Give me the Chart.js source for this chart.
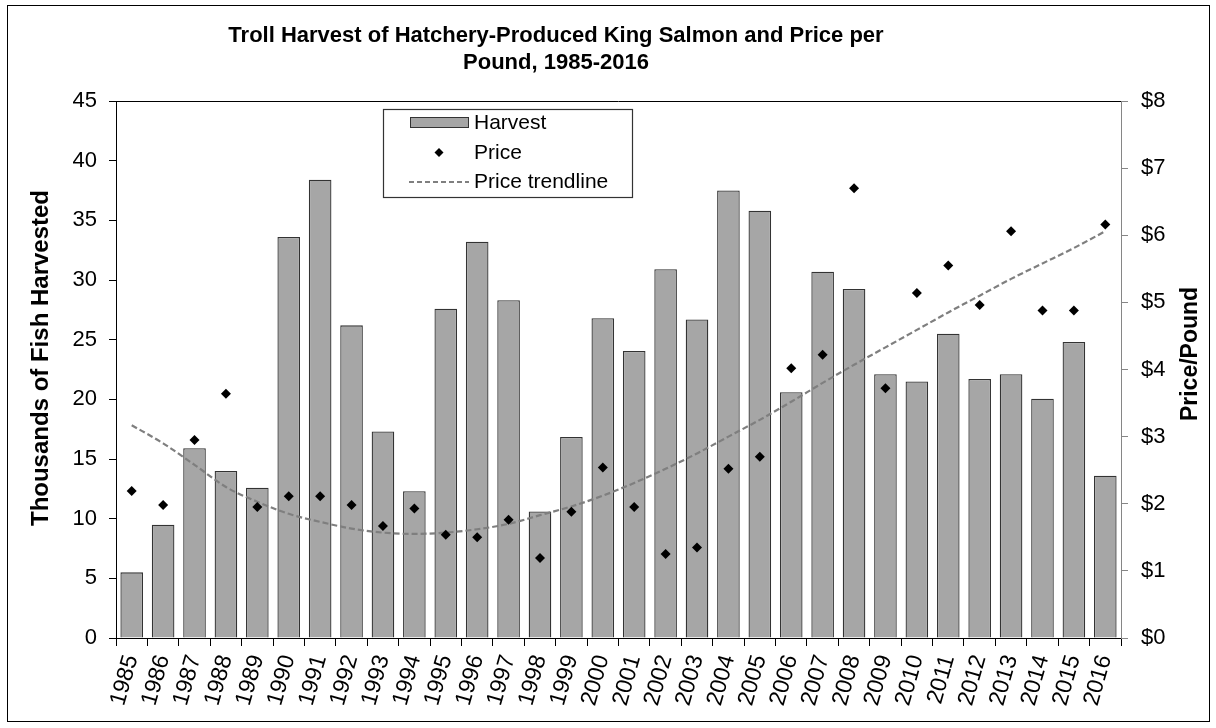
<!DOCTYPE html>
<html>
<head>
<meta charset="utf-8">
<script src="https://cdn.jsdelivr.net/npm/chart.js@4"></script>
<style>
  html, body { margin: 0; padding: 0; background: #fff; }
  canvas { display: block; }
</style>
</head>
<body>
<canvas id="salmonChart" width="1216" height="728"></canvas>
<script>
const years = ['1985','1986','1987','1988','1989','1990','1991','1992','1993','1994','1995','1996','1997','1998','1999','2000',
               '2001','2002','2003','2004','2005','2006','2007','2008','2009','2010','2011','2012','2013','2014','2015','2016'];

// thousands of fish
const harvest = [5.5, 9.5, 15.9, 14.0, 12.6, 33.6, 38.4, 26.2, 17.3, 12.3, 27.6, 33.2, 28.3, 10.6, 16.85, 26.8,
                 24.05, 30.9, 26.7, 37.5, 35.8, 20.6, 30.7, 29.25, 22.1, 21.5, 25.5, 21.7, 22.1, 20.05, 24.8, 13.6];

// dollars per pound
const price = [2.19, 1.98, 2.95, 3.64, 1.95, 2.11, 2.11, 1.98, 1.67, 1.93, 1.54, 1.50, 1.76, 1.19, 1.88, 2.54,
               1.95, 1.25, 1.35, 2.52, 2.70, 4.02, 4.22, 6.70, 3.72, 5.14, 5.55, 4.96, 6.06, 4.88, 4.88, 6.16];

// trendline
const trend = [3.17, 2.90, 2.58, 2.25, 2.03, 1.85, 1.73, 1.63, 1.57, 1.55, 1.57, 1.62, 1.70, 1.83, 1.96, 2.12,
               2.31, 2.52, 2.75, 3.00, 3.25, 3.52, 3.80, 4.07, 4.33, 4.59, 4.85, 5.10, 5.35, 5.58, 5.81, 6.06];

const FONT = 'Liberation Sans, Arial, sans-serif';
const BAR_FILL = '#a6a6a6';
const BAR_EDGE = '#333333';
const TREND_COLOR = '#7f7f7f';

// white background, outer frame, title, axis titles, top border, legend
const decorations = {
    id: 'decorations',
    beforeDraw(chart) {
        const { ctx } = chart;
        ctx.save();
        ctx.fillStyle = '#fff';
        ctx.fillRect(0, 0, chart.width, chart.height);
        ctx.strokeStyle = '#000';
        ctx.lineWidth = 1;
        ctx.strokeRect(7.5, 5.5, 1202, 716);
        ctx.restore();
    },
    afterDraw(chart) {
        const { ctx, chartArea } = chart;
        ctx.save();

        // top edge of plot area
        ctx.strokeStyle = '#000';
        ctx.lineWidth = 1;
        ctx.beginPath();
        ctx.moveTo(chartArea.left, chartArea.top + 0.5);
        ctx.lineTo(chartArea.right, chartArea.top + 0.5);
        ctx.stroke();

        // title
        ctx.fillStyle = '#000';
        ctx.font = 'bold 22px ' + FONT;
        ctx.textAlign = 'center';
        ctx.textBaseline = 'middle';
        ctx.fillText('Troll Harvest of Hatchery-Produced King Salmon and Price per', 556, 36);
        ctx.fillText('Pound, 1985-2016', 556, 63);

        // axis titles (both read bottom to top)
        ctx.save();
        ctx.font = 'bold 24px ' + FONT;
        ctx.translate(41, 358);
        ctx.rotate(-Math.PI / 2);
        ctx.fillText('Thousands of Fish Harvested', 0, 0);
        ctx.restore();
        ctx.save();
        ctx.font = 'bold 23px ' + FONT;
        ctx.translate(1191, 354);
        ctx.rotate(-Math.PI / 2);
        ctx.fillText('Price/Pound', 0, 0);
        ctx.restore();

        // legend
        ctx.fillStyle = '#fff';
        ctx.fillRect(383, 109, 249, 88);
        ctx.strokeStyle = '#333';
        ctx.lineWidth = 1.2;
        ctx.strokeRect(383.5, 109.5, 249, 88);

        ctx.fillStyle = BAR_FILL;
        ctx.fillRect(410, 117, 58, 10);
        ctx.strokeStyle = BAR_EDGE;
        ctx.lineWidth = 1;
        ctx.strokeRect(410.5, 117.5, 58, 10);

        ctx.fillStyle = '#000';
        ctx.beginPath();
        ctx.moveTo(439, 148);
        ctx.lineTo(443.5, 152.5);
        ctx.lineTo(439, 157);
        ctx.lineTo(434.5, 152.5);
        ctx.closePath();
        ctx.fill();

        ctx.strokeStyle = TREND_COLOR;
        ctx.lineWidth = 2;
        ctx.setLineDash([5, 3]);
        ctx.beginPath();
        ctx.moveTo(409, 182);
        ctx.lineTo(469, 182);
        ctx.stroke();
        ctx.setLineDash([]);

        ctx.fillStyle = '#000';
        ctx.font = '21px ' + FONT;
        ctx.textAlign = 'left';
        ctx.fillText('Harvest', 474, 123);
        ctx.fillText('Price', 474, 153);
        ctx.fillText('Price trendline', 474, 182);

        ctx.restore();
    }
};

const chart = new Chart(document.getElementById('salmonChart').getContext('2d'), {
    type: 'bar',
    data: {
        labels: years,
        datasets: [
            {
                type: 'line',
                label: 'Price',
                data: price,
                yAxisID: 'y1',
                showLine: false,
                pointStyle: 'rectRot',
                pointRadius: 5,
                pointBackgroundColor: '#000',
                pointBorderColor: '#000',
                pointBorderWidth: 0,
                order: 1
            },
            {
                type: 'line',
                label: 'Price trendline',
                data: trend,
                yAxisID: 'y1',
                borderColor: TREND_COLOR,
                borderWidth: 2.2,
                borderDash: [6, 3],
                pointRadius: 0,
                fill: false,
                cubicInterpolationMode: 'monotone',
                order: 2
            },
            {
                label: 'Harvest',
                data: harvest,
                yAxisID: 'y',
                backgroundColor: BAR_FILL,
                borderColor: BAR_EDGE,
                borderWidth: 1.3,
                barPercentage: 0.72,
                categoryPercentage: 1.0,
                order: 3
            }
        ]
    },
    options: {
        responsive: false,
        animation: false,
        layout: {
            padding: { top: 101, left: 0, right: 0, bottom: 0 }
        },
        plugins: {
            legend: { display: false },
            title: { display: false },
            tooltip: { enabled: false }
        },
        scales: {
            x: {
                grid: {
                    offset: true,
                    drawOnChartArea: false,
                    tickLength: 8,
                    color: '#000'
                },
                border: { color: '#000', width: 1 },
                ticks: {
                    color: '#000',
                    font: { family: FONT, size: 23 },
                    minRotation: 74,
                    maxRotation: 74,
                    autoSkip: false,
                    padding: 6
                },
                afterFit: scale => { scale.height = 90; }
            },
            y: {
                position: 'left',
                min: 0,
                max: 45,
                grid: {
                    drawOnChartArea: false,
                    tickLength: 7,
                    color: '#000'
                },
                border: { color: '#000', width: 1 },
                ticks: {
                    stepSize: 5,
                    color: '#000',
                    font: { family: FONT, size: 22 },
                    padding: 12
                },
                afterFit: scale => { scale.width = 116; }
            },
            y1: {
                position: 'right',
                min: 0,
                max: 8,
                grid: {
                    drawOnChartArea: false,
                    tickLength: 7,
                    color: '#868686'
                },
                border: { color: '#868686', width: 1 },
                ticks: {
                    stepSize: 1,
                    color: '#000',
                    font: { family: FONT, size: 22 },
                    padding: 13,
                    callback: v => '$' + v
                },
                afterFit: scale => { scale.width = 95; }
            }
        }
    },
    plugins: [decorations]
});
</script>
</body>
</html>
